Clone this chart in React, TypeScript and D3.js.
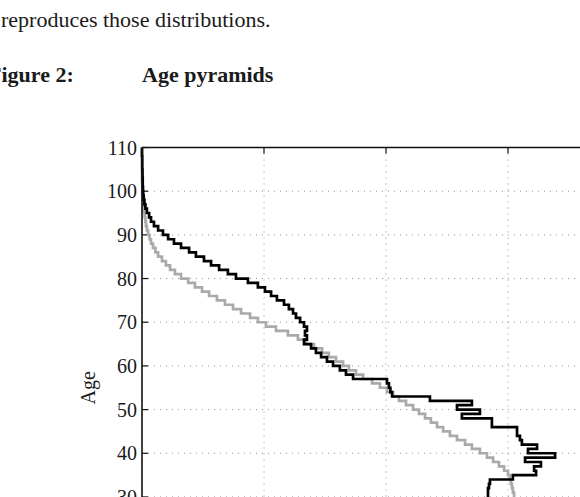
import React from "react";
import * as d3 from "d3";

// Single-year age bins, youngest first (ages 30 … 109)
const ageStart = 30;
const ageEnd = 109;

// Share of population per single year of age, in percent
const observed = [
  1.418, 1.418, 1.422, 1.426, 1.52, 1.615, 1.607, 1.635, 1.57, 1.693,
  1.582, 1.619, 1.557, 1.549, 1.537, 1.537, 1.434, 1.434, 1.311, 1.385,
  1.291, 1.352, 1.18, 1.025, 1.018, 1.012, 1.004, 0.865, 0.836, 0.811,
  0.783, 0.758, 0.734, 0.713, 0.693, 0.664, 0.676, 0.668, 0.676, 0.664,
  0.648, 0.631, 0.619, 0.602, 0.582, 0.553, 0.529, 0.504, 0.475, 0.434,
  0.385, 0.352, 0.316, 0.283, 0.254, 0.221, 0.193, 0.16, 0.131, 0.107,
  0.086, 0.066, 0.049, 0.037, 0.029, 0.02, 0.014, 0.01, 0.007, 0.005,
  0.004, 0.003, 0.003, 0.002, 0.002, 0.001, 0.001, 0.001, 0.0, 0.0,
];

const simulated = [
  1.525, 1.52, 1.516, 1.512, 1.508, 1.5, 1.484, 1.463, 1.439, 1.414,
  1.385, 1.352, 1.324, 1.291, 1.262, 1.234, 1.209, 1.184, 1.16, 1.135,
  1.111, 1.082, 1.053, 1.029, 1.004, 0.975, 0.943, 0.906, 0.877, 0.848,
  0.824, 0.795, 0.766, 0.738, 0.705, 0.672, 0.639, 0.598, 0.549, 0.508,
  0.475, 0.443, 0.406, 0.373, 0.34, 0.307, 0.275, 0.246, 0.217, 0.189,
  0.16, 0.135, 0.115, 0.098, 0.082, 0.066, 0.055, 0.045, 0.037, 0.031,
  0.025, 0.02, 0.016, 0.014, 0.011, 0.008, 0.006, 0.004, 0.002, 0.001,
  0.001, 0.001, 0.0, 0.0, 0.0, 0.0, 0.0, 0.0, 0.0, 0.0,
];

const yTicks = [30, 40, 50, 60, 70, 80, 90, 100, 110];
const xTicks = [0.5, 1, 1.5];

const W = 580;
const H = 497;

const x = d3.scaleLinear().domain([0, 2]).range([142, 630]);
const y = d3.scaleLinear().domain([0, 110]).range([628.0, 147.5]);

// Turn per-age values into a vertical staircase: each bin is a vertical
// segment from age a+1 down to age a, joined by horizontal risers.
function stairs(values: number[]): [number, number][] {
  const pts: [number, number][] = [];
  for (let a = ageEnd; a >= ageStart; a--) {
    const v = values[a - ageStart];
    pts.push([v, a + 1], [v, a]);
  }
  return pts;
}

const line = d3
  .line<[number, number]>()
  .x((d) => x(d[0]))
  .y((d) => y(d[1]));

const serif = "'Liberation Serif', 'Times New Roman', serif";

export default function App() {
  const left = x(0);
  const top = y(110);
  const right = x(2);
  const bottom = y(0);
  return (
    <svg
      width={W}
      height={H}
      style={{ position: "absolute", left: 0, top: 0, background: "#fff" }}
      fontFamily={serif}
    >
      <rect width={W} height={H} fill="#fff" />
      <text x={1} y={27} fontSize={22} fill="#1a1a1a">
        reproduces those distributions.
      </text>
      <text x={-12} y={82} fontSize={22} fontWeight="bold" fill="#1a1a1a">
        Figure 2:
      </text>
      <text x={142} y={82} fontSize={22} fontWeight="bold" fill="#1a1a1a">
        Age pyramids
      </text>

      {/* dotted grid */}
      <g stroke="#909090" strokeWidth={1} strokeDasharray="1,5">
        {yTicks
          .filter((t) => t < 110)
          .map((t) => (
            <line key={"gy" + t} x1={left} x2={right} y1={y(t)} y2={y(t)} />
          ))}
        {xTicks.map((t) => (
          <line key={"gx" + t} x1={x(t)} x2={x(t)} y1={top} y2={bottom} />
        ))}
      </g>

      {/* inward ticks */}
      <g stroke="#111" strokeWidth={1.2}>
        {yTicks.map((t) => (
          <line key={"ty" + t} x1={left} x2={left + 6} y1={y(t)} y2={y(t)} />
        ))}
        {xTicks.map((t) => (
          <line key={"tx" + t} x1={x(t)} x2={x(t)} y1={top} y2={top + 6} />
        ))}
      </g>

      {/* series */}
      <path
        d={line(stairs(simulated)) ?? ""}
        fill="none"
        stroke="#aaaaaa"
        strokeWidth={2.7}
        strokeLinejoin="miter"
      />
      <path
        d={line(stairs(observed)) ?? ""}
        fill="none"
        stroke="#000"
        strokeWidth={2.7}
        strokeLinejoin="miter"
      />

      {/* frame */}
      <g stroke="#111" strokeWidth={1.6} fill="none">
        <line x1={left} x2={right} y1={top} y2={top} />
        <line x1={left} x2={left} y1={top} y2={bottom} />
      </g>

      {/* y tick labels */}
      <g fontSize={20} fill="#1a1a1a" textAnchor="end">
        {yTicks.map((t) => (
          <text key={"ly" + t} x={left - 5} y={y(t) + 7}>
            {t}
          </text>
        ))}
      </g>
      <text
        transform={`translate(95, ${y(55)}) rotate(-90)`}
        fontSize={20}
        fill="#1a1a1a"
        textAnchor="middle"
      >
        Age
      </text>
    </svg>
  );
}
